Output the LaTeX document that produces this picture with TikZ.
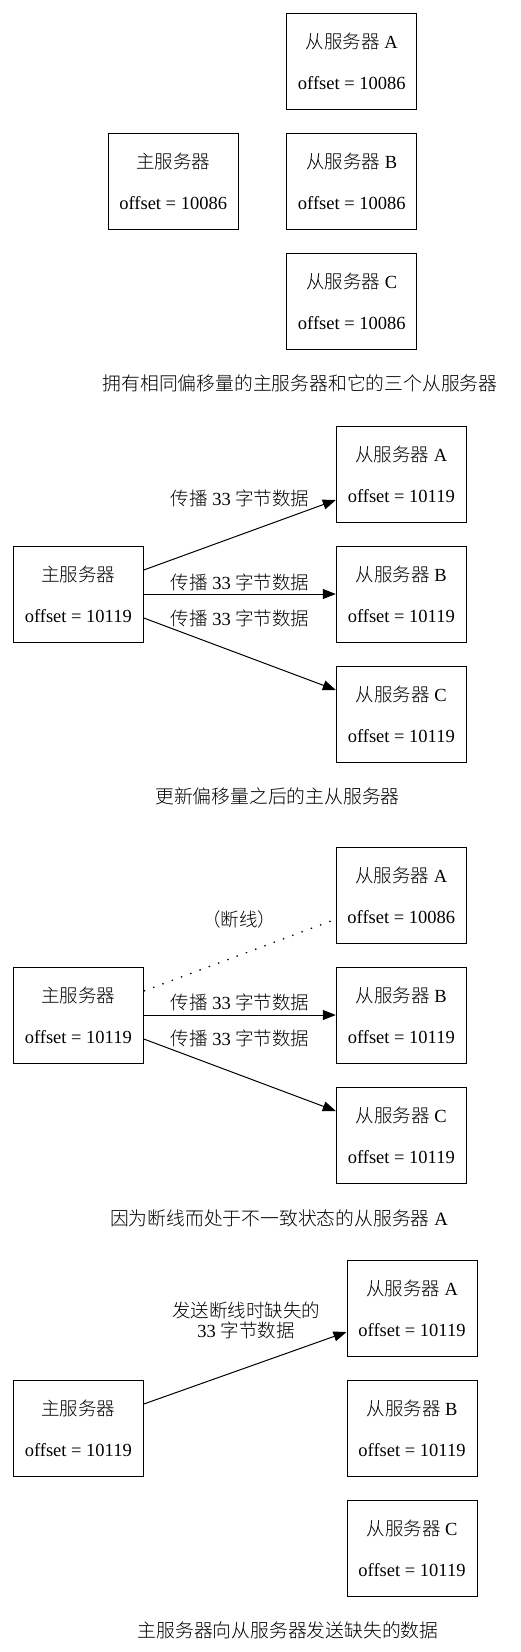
\documentclass[tikz,border=0pt]{standalone}
\usepackage{fontspec}
\setmainfont{Liberation Serif}
\newfontfamily\cjk{Noto Sans CJK SC Light}
\usetikzlibrary{arrows.meta,calc}
\tikzset{
  box/.style={draw, line width=1pt, minimum width=130pt, minimum height=96pt, inner sep=0pt, align=center, font=\fontsize{18.5}{41}\selectfont},
  lbl/.style={inner sep=0pt, align=center, font=\fontsize{18.5}{20}\selectfont},
  captext/.style={inner sep=0pt, font=\fontsize{18.8}{22}\selectfont},
  arr/.style={line width=1pt, -{Triangle[length=13pt,width=10pt]}},
  dots/.style={line width=1.3pt, dash pattern=on 1.4pt off 8.5pt}
}
\begin{document}
\begin{tikzpicture}[x=1pt,y=-1pt]
\useasboundingbox (0,0) rectangle (520,1652);
% ---------- panel 1
\node[box] (a1) at (351.8,61.3) {{\cjk 从服务器} A\\offset = 10086};
\node[box] (m1) at (173.2,181.3) {{\cjk 主服务器}\\offset = 10086};
\node[box] (b1) at (351.8,181.3) {{\cjk 从服务器} B\\offset = 10086};
\node[box] (c1) at (351.8,301.3) {{\cjk 从服务器} C\\offset = 10086};
\node[captext] (cap1) at (300,383.3) {\cjk 拥有相同偏移量的主服务器和它的三个从服务器};
% ---------- panel 2
\node[box] (a2) at (401.3,474) {{\cjk 从服务器} A\\offset = 10119};
\node[box] (b2) at (401.3,594) {{\cjk 从服务器} B\\offset = 10119};
\node[box] (c2) at (401.3,714) {{\cjk 从服务器} C\\offset = 10119};
\node[box] (m2) at (78.3,594) {{\cjk 主服务器}\\offset = 10119};
\draw[arr] ($(m2.east)+(0,-24)$) -- ($(a2.west)+(0,26)$);
\draw[arr] (m2.east) -- (b2.west);
\draw[arr] ($(m2.east)+(0,24)$) -- ($(c2.west)+(0,-24)$);
\node[lbl] (la2) at (240,498) {{\cjk 传播} 33 {\cjk 字节数据}};
\node[lbl] (lb2) at (240,582) {{\cjk 传播} 33 {\cjk 字节数据}};
\node[lbl] (lc2) at (240,618) {{\cjk 传播} 33 {\cjk 字节数据}};
\node[captext] (cap2) at (277.5,796.7) {\cjk 更新偏移量之后的主从服务器};
% ---------- panel 3
\node[box] (a3) at (401.3,895.2) {{\cjk 从服务器} A\\offset = 10086};
\node[box] (b3) at (401.3,1015) {{\cjk 从服务器} B\\offset = 10119};
\node[box] (c3) at (401.3,1135) {{\cjk 从服务器} C\\offset = 10119};
\node[box] (m3) at (78.3,1015) {{\cjk 主服务器}\\offset = 10119};
\draw[dots] ($(m3.east)+(0,-24)$) -- ($(a3.west)+(0,24)$);
\draw[arr] (m3.east) -- (b3.west);
\draw[arr] ($(m3.east)+(0,24)$) -- ($(c3.west)+(0,-24)$);
\node[lbl] (la3) at (239,919) {\cjk （断线）};
\node[lbl] (lb3) at (240,1002.7) {{\cjk 传播} 33 {\cjk 字节数据}};
\node[lbl] (lc3) at (240,1038.3) {{\cjk 传播} 33 {\cjk 字节数据}};
\node[captext] (cap3) at (279,1218.3) {{\cjk 因为断线而处于不一致状态的从服务器} A};
% ---------- panel 4
\node[box] (a4) at (412,1308) {{\cjk 从服务器} A\\offset = 10119};
\node[box] (b4) at (412,1428) {{\cjk 从服务器} B\\offset = 10119};
\node[box] (c4) at (412,1548) {{\cjk 从服务器} C\\offset = 10119};
\node[box] (m4) at (78.3,1428) {{\cjk 主服务器}\\offset = 10119};
\draw[arr] ($(m4.east)+(0,-24)$) -- ($(a4.west)+(0,24)$);
\node[lbl] (la4) at (246,1320) {{\cjk 发送断线时缺失的}\\33 {\cjk 字节数据}};
\node[captext] (cap4) at (288,1630) {\cjk 主服务器向从服务器发送缺失的数据};
\end{tikzpicture}
\end{document}
